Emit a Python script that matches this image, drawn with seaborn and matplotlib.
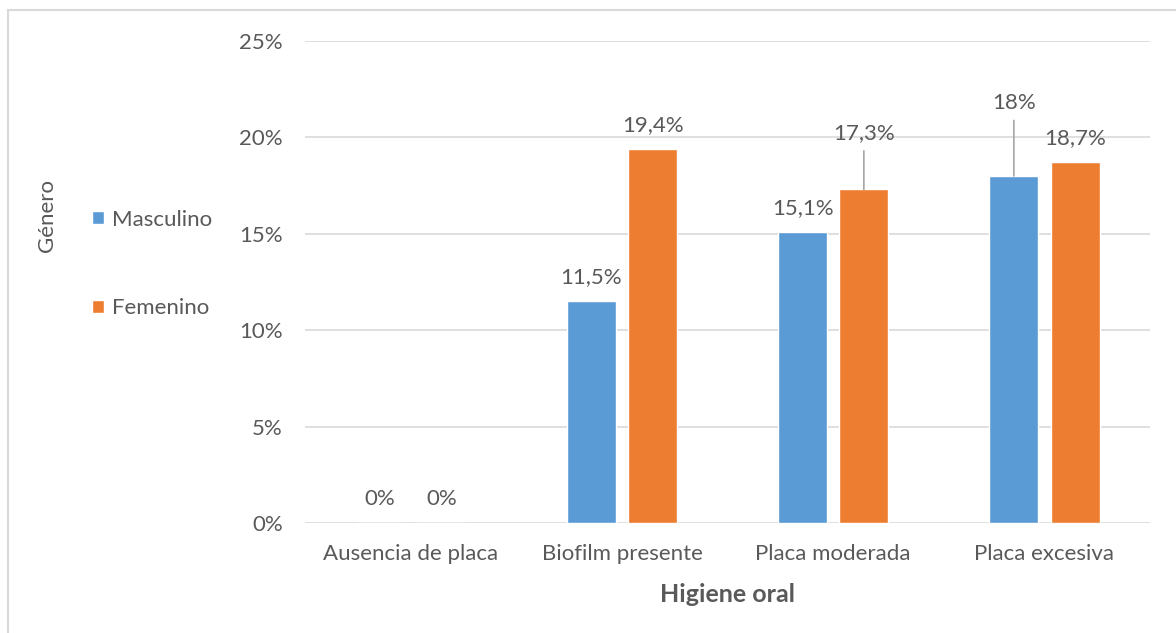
import pandas as pd
import matplotlib.pyplot as plt
import seaborn as sns
from matplotlib.patches import Rectangle

categories = ["Ausencia de placa", "Biofilm presente", "Placa moderada", "Placa excesiva"]
masculino = [0.0, 11.5, 15.1, 18.0]
femenino = [0.0, 19.4, 17.3, 18.7]
series_names = ["Masculino", "Femenino"]
label_masc = ["0%", "11,5%", "15,1%", "18%"]
label_fem = ["0%", "19,4%", "17,3%", "18,7%"]
yticks = [0, 5, 10, 15, 20, 25]

TEXT = "#595959"
GRID = "#d9d9d9"
FS = 16

df = pd.DataFrame({
    "categoria": categories * 2,
    "valor": masculino + femenino,
    "genero": [series_names[0]] * 4 + [series_names[1]] * 4,
})

sns.set_style("white")
plt.rcParams["font.family"] = ["Lato", "DejaVu Sans"]

fig = plt.figure(figsize=(11.76, 6.33), dpi=100)
ax = fig.add_axes([0.2594, 0.1738, 0.7186, 0.7614])

sns.barplot(
    data=df, x="categoria", y="valor", hue="genero",
    palette=["#5B9BD5", "#ED7D31"], width=0.58, gap=0.2,
    saturation=1, ax=ax, legend=True,
)

ax.set_ylim(0, 25)
ax.set_xlim(-0.5, 3.5)
ax.set_yticks(yticks)
ax.set_yticklabels([f"{t}%" for t in yticks])
ax.yaxis.grid(True, color=GRID, linewidth=1.2)
ax.set_axisbelow(True)
for s in ax.spines.values():
    s.set_visible(False)
ax.tick_params(axis="both", length=0, labelsize=FS, colors=TEXT)
ax.tick_params(axis="y", pad=16)
ax.tick_params(axis="x", pad=15)
ax.set_ylabel("")
ax.set_xlabel("Higiene oral", fontsize=18, fontweight="bold", color=TEXT, labelpad=14)

# data labels; two of them sit higher with a leader line
raise_px = {(0, 3): 73, (1, 2): 56}
labels = [label_masc, label_fem]
for si, cont in enumerate(ax.containers):
    for ci, bar in enumerate(cont):
        xc = bar.get_x() + bar.get_width() / 2
        h = bar.get_height()
        key = (si, ci)
        if key in raise_px:
            ax.annotate(labels[si][ci], xy=(xc, h), xytext=(0, raise_px[key] * 0.72),
                        textcoords="offset points", ha="center", va="center",
                        fontsize=FS, color=TEXT,
                        arrowprops=dict(arrowstyle="-", color="#a6a6a6", lw=1.2,
                                        shrinkA=3, shrinkB=0))
        else:
            ax.annotate(labels[si][ci], xy=(xc, h), xytext=(0, 24 * 0.72),
                        textcoords="offset points", ha="center", va="center",
                        fontsize=FS, color=TEXT)

handles, _ = ax.get_legend_handles_labels()
ax.legend(handles, series_names, loc="upper left", bbox_to_anchor=(0.078, 0.669),
          bbox_transform=fig.transFigure, frameon=False, fontsize=FS,
          labelcolor=TEXT, handlelength=0.55, handleheight=0.55, borderpad=0,
          borderaxespad=0, handletextpad=0.36, labelspacing=3.1)

fig.text(0.040, 0.66, "Género", rotation=90, ha="center", va="center",
         fontsize=FS, color=TEXT)

fig.patches.append(Rectangle((8 / 1176, -0.1), 1.2, 1 - 10 / 633 + 0.1,
                             transform=fig.transFigure, fill=False,
                             edgecolor=GRID, linewidth=1.5))

fig.savefig("out.png", dpi=100)
